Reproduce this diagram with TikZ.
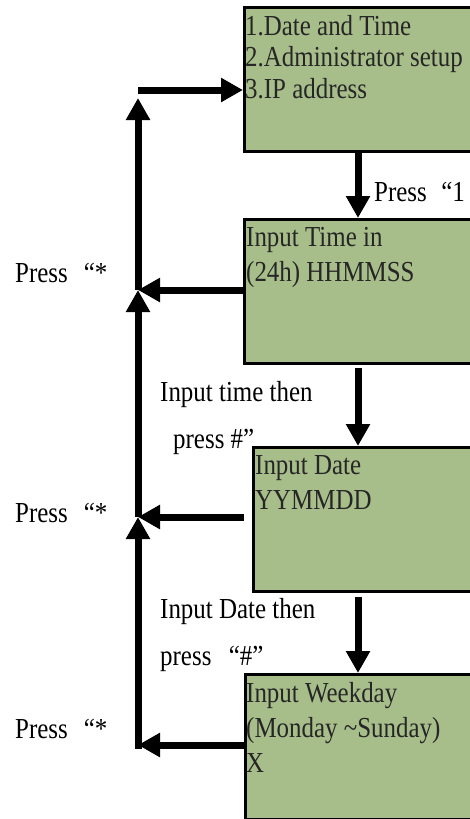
\documentclass[tikz,border=0pt]{standalone}
\usepackage{fontspec}
\setmainfont{Liberation Serif}[FakeStretch=0.86]
\usepackage{xcolor}
\usetikzlibrary{
  arrows.meta,
  positioning
}
\definecolor{lcdgreen}{RGB}{168,190,138}
\definecolor{lcdtext}{RGB}{38,38,38}

\begin{document}
\begin{tikzpicture}[x=1pt,y=-1pt,every text node part/.style={align=left},
  screen/.style={rectangle,draw=black,line width=2.5pt,fill=lcdgreen,anchor=north west,minimum height=144pt},
  screentext/.style={anchor=north west,inner sep=0pt,text=lcdtext,font=\fontsize{29}{35}\selectfont},
  keytext/.style={anchor=base west,inner sep=0pt,font=\fontsize{29}{30}\selectfont},
  arr/.style={line width=7pt,-{Triangle[length=22pt,width=23pt]}}]
  \useasboundingbox (0,0) rectangle (470,819);
  \clip (0,0) rectangle (470,819);
  % menu screens
  \node[screen,minimum width=237pt] (1) at (243,6) {};
  \node[screentext,font=\fontsize{29}{31.5}\selectfont] (1t) at (245,15) {1.Date and Time\\2.Administrator setup\\3.IP address};
  \node[screen,minimum width=237pt] (2) at (243,218) {};
  \node[screentext] (2t) at (246,227) {Input Time in\\(24h) HHMMSS};
  \node[screen,minimum width=228pt] (3) at (252,446) {};
  \node[screentext] (3t) at (255,455) {Input Date\\YYMMDD};
  \node[screen,minimum width=236pt,minimum height=145pt] (4) at (244,673) {};
  \node[screentext] (4t) at (246,682) {Input Weekday\\(Monday \textasciitilde Sunday)\\X};
  % key labels
  \node[keytext] (k1) at (374,201) {Press\hspace{0.5em}“1};
  \node[keytext] (k2) at (15,282) {Press\hspace{0.55em}“*};
  \node[keytext] (k3) at (15,522) {Press\hspace{0.55em}“*};
  \node[keytext] (k4) at (15,738) {Press\hspace{0.55em}“*};
  \node[keytext] (k5) at (160,401) {Input time then};
  \node[keytext] (k6) at (173,448) {press \#”};
  \node[keytext] (k7) at (160,618) {Input Date then};
  \node[keytext] (k8) at (160,665) {press\hspace{0.6em}“\#”};
  % spine
  \coordinate (axis) at (358,0);
  \coordinate (s0) at (138,90);
  \coordinate (s1) at (138,98);
  \coordinate (s2) at (138,290);
  \coordinate (s3) at (138,517);
  \coordinate (s4) at (138,745);
  \draw[arr] (1.south -| axis) -- (2.north -| axis);
  \draw[arr,shorten <=3pt] (2.south -| axis) -- (3.north -| axis);
  \draw[arr,shorten <=4pt] (3.south -| axis) -- (4.north -| axis);
  \draw[arr] (s0) -- (s0 -| 1.west);
  \draw[arr] (s2 -| 2.west) -- (s2);
  \draw[arr] (s3 -| 4.west) -- (s3);
  \draw[arr] (s4 -| 4.west) -- (s4);
  \draw[arr,shorten <=-3.5pt] (s4) -- (s3);
  \draw[arr] (s3) -- (s2);
  \draw[arr] (s2) -- (s1);
\end{tikzpicture}
\end{document}
